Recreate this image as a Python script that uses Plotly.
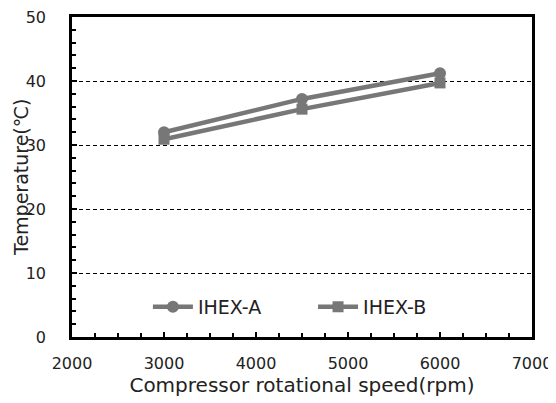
import plotly.graph_objects as go

speed = [3000, 4500, 6000]
ihex_a = [32.0, 37.2, 41.2]
ihex_b = [30.9, 35.6, 39.7]
x_ticks = [2000, 3000, 4000, 5000, 6000, 7000]
y_ticks = [0, 10, 20, 30, 40, 50]

col = "#777777"
font = "DejaVu Sans"

fig = go.Figure()
fig.add_trace(go.Scatter(x=speed, y=ihex_a, mode="lines+markers", name="IHEX-A",
                         line=dict(color=col, width=4.5), legend="legend",
                         marker=dict(symbol="circle", size=12, color=col)))
fig.add_trace(go.Scatter(x=speed, y=ihex_b, mode="lines+markers", name="IHEX-B",
                         line=dict(color=col, width=4.5), legend="legend2",
                         marker=dict(symbol="square", size=11, color=col)))

leg = dict(orientation="h", yanchor="middle", xanchor="left", y=0.094,
           font=dict(size=19), bgcolor="rgba(0,0,0,0)", itemwidth=40)

fig.update_layout(
    width=548, height=395,
    margin=dict(l=64, r=24, t=9, b=66),
    paper_bgcolor="white", plot_bgcolor="white",
    font=dict(family=font, size=16, color="#222222"),
    showlegend=True,
    legend=dict(leg, x=0.165),
    legend2=dict(leg, x=0.524),
    xaxis=dict(range=[2000, 7000], tickvals=x_ticks, ticks="inside", ticklen=5,
               tickwidth=2, tickcolor="black", ticklabelstandoff=10,
               ticklabeloverflow="allow",
               minor=dict(dtick=250, ticks="inside", ticklen=4, tickwidth=2, tickcolor="black"),
               showline=True, linecolor="black", linewidth=2.5, mirror=True,
               showgrid=False, zeroline=False, automargin=False,
               title=dict(text="Compressor rotational speed(rpm)", font=dict(size=20), standoff=6)),
    yaxis=dict(range=[0, 50], tickvals=y_ticks, ticks="inside", ticklen=5,
               tickwidth=2, tickcolor="black", ticklabelstandoff=20,
               ticklabeloverflow="allow",
               minor=dict(dtick=2, ticks="inside", ticklen=4, tickwidth=2, tickcolor="black"),
               showline=True, linecolor="black", linewidth=2.5, mirror=True,
               showgrid=True, gridcolor="black", griddash="4px,3px", gridwidth=1.3,
               zeroline=False, automargin=False),
    annotations=[dict(text="Temperature(℃)", xref="paper", yref="paper", x=0, y=0.5,
                      xanchor="center", yanchor="middle", xshift=-51, textangle=-90,
                      showarrow=False, borderpad=0, font=dict(size=19, color="#222222"))],
)

fig.write_html("out.html")
